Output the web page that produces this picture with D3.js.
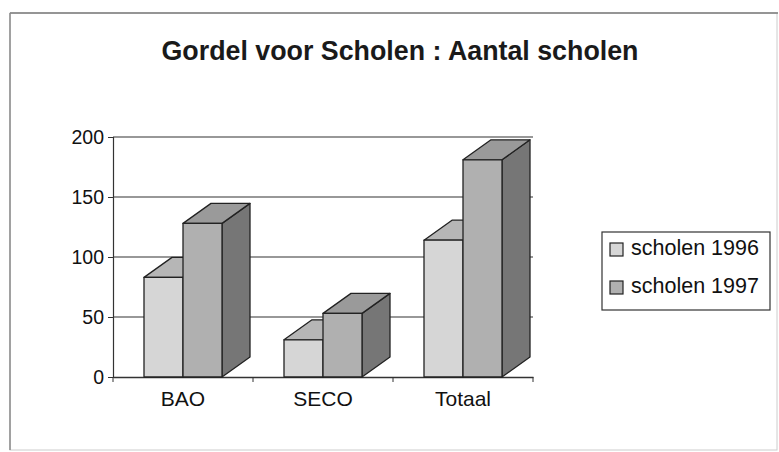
<!DOCTYPE html>
<html>
<head>
<meta charset="utf-8">
<script src="https://cdn.jsdelivr.net/npm/d3@7"></script>
<style>
  html, body { margin: 0; padding: 0; background: #fff; }
  svg { display: block; font-family: "Liberation Sans", Arial, sans-serif; }
</style>
</head>
<body>
<div id="chart"></div>
<script>
const categories = ['BAO', 'SECO', 'Totaal'];
const series = ['scholen 1996', 'scholen 1997'];
const values1996 = [83, 31, 114];
const values1997 = [128, 53, 181];
const yTicks = [0, 50, 100, 150, 200];

const width = 779, height = 452;
const depth = { dx: 28, dy: -20 };

// colours per series: front, top, side
const shades = [
  { front: '#d6d6d6', top: '#b6b6b6', side: '#8e8e8e' },
  { front: '#b0b0b0', top: '#9a9a9a', side: '#767676' }
];

const svg = d3.select('#chart').append('svg')
  .attr('width', width)
  .attr('height', height);

// outer frame
svg.append('rect')
  .attr('x', 10).attr('y', 13)
  .attr('width', 767).attr('height', 437)
  .attr('fill', 'none')
  .attr('stroke', '#ccc')
  .attr('stroke-width', 1);
svg.append('line').attr('x1', 10).attr('x2', 778).attr('y1', 13).attr('y2', 13)
  .attr('stroke', '#7a7a7a').attr('stroke-width', 1.5);
svg.append('line').attr('x1', 10).attr('x2', 10).attr('y1', 13).attr('y2', 450)
  .attr('stroke', '#8a8a8a').attr('stroke-width', 1.5);

svg.append('text')
  .attr('x', 400).attr('y', 60)
  .attr('text-anchor', 'middle')
  .attr('font-size', 26.8)
  .attr('font-weight', 'bold')
  .attr('fill', '#1a1a1a')
  .text('Gordel voor Scholen : Aantal scholen');

const y = d3.scaleLinear().domain([0, 200]).range([377, 137]);
const x0 = d3.scaleBand().domain(categories).range([113, 533]);
const x1 = d3.scaleBand().domain(series).range([0, 78]);
const groupOffset = (x0.bandwidth() - 78) / 2;

// gridlines
svg.append('g')
  .selectAll('line')
  .data(yTicks.filter(t => t > 0))
  .enter().append('line')
  .attr('x1', 113).attr('x2', 533)
  .attr('y1', d => y(d)).attr('y2', d => y(d))
  .attr('stroke', '#333')
  .attr('stroke-width', 1.2);

// y axis
const yAxis = svg.append('g')
  .attr('transform', 'translate(113,0)')
  .call(d3.axisLeft(y).tickValues(yTicks).tickSize(5).tickPadding(4));
yAxis.select('.domain').attr('stroke', '#333').attr('stroke-width', 1.2);
yAxis.selectAll('.tick line').attr('stroke', '#333');
yAxis.selectAll('text')
  .attr('font-size', 19.5)
  .attr('fill', '#111')
  .attr('font-family', '"Liberation Sans", Arial, sans-serif');

// x axis
const xAxis = svg.append('g')
  .attr('transform', 'translate(0,377)')
  .call(d3.axisBottom(x0).tickSize(0).tickPadding(14));
xAxis.select('.domain').attr('stroke', '#333').attr('stroke-width', 1.5);
xAxis.selectAll('text')
  .attr('font-size', 21)
  .attr('fill', '#111')
  .attr('font-family', '"Liberation Sans", Arial, sans-serif');
svg.append('g')
  .selectAll('line')
  .data(categories)
  .enter().append('line')
  .attr('x1', d => x0(d) + x0.bandwidth())
  .attr('x2', d => x0(d) + x0.bandwidth())
  .attr('y1', 377).attr('y2', 382)
  .attr('stroke', '#333');
svg.append('line').attr('x1', 113).attr('x2', 113).attr('y1', 377).attr('y2', 382).attr('stroke', '#333');

// 3D bars
const bars = [];
categories.forEach((c, i) => {
  [values1996[i], values1997[i]].forEach((v, s) => {
    bars.push({ cat: c, s: s, v: v });
  });
});

const barG = svg.append('g');
bars.forEach(b => {
  const xl = x0(b.cat) + groupOffset + x1(series[b.s]);
  const xr = xl + x1.bandwidth();
  const yt = y(b.v), yb = y(0);
  const sh = shades[b.s];
  const g = barG.append('g')
    .attr('stroke', '#222')
    .attr('stroke-width', 1.3)
    .attr('stroke-linejoin', 'round');
  // side
  g.append('path')
    .attr('d', `M${xr},${yt} L${xr + depth.dx},${yt + depth.dy} L${xr + depth.dx},${yb + depth.dy} L${xr},${yb} Z`)
    .attr('fill', sh.side);
  // top
  g.append('path')
    .attr('d', `M${xl},${yt} L${xl + depth.dx},${yt + depth.dy} L${xr + depth.dx},${yt + depth.dy} L${xr},${yt} Z`)
    .attr('fill', sh.top);
  // front
  g.append('rect')
    .attr('x', xl).attr('y', yt)
    .attr('width', xr - xl).attr('height', yb - yt)
    .attr('fill', sh.front);
});

// legend
const legend = svg.append('g');
legend.append('rect')
  .attr('x', 602).attr('y', 232)
  .attr('width', 168).attr('height', 78)
  .attr('fill', '#fff')
  .attr('stroke', '#333')
  .attr('stroke-width', 1.2);
series.forEach((s, i) => {
  const ly = 255 + i * 38;
  legend.append('rect')
    .attr('x', 610).attr('y', ly - 12)
    .attr('width', 13).attr('height', 13)
    .attr('fill', shades[i].front)
    .attr('stroke', '#222')
    .attr('stroke-width', 1.2);
  legend.append('text')
    .attr('x', 631).attr('y', ly)
    .attr('font-size', 21.5)
    .attr('fill', '#111')
    .text(s);
});
</script>
</body>
</html>
